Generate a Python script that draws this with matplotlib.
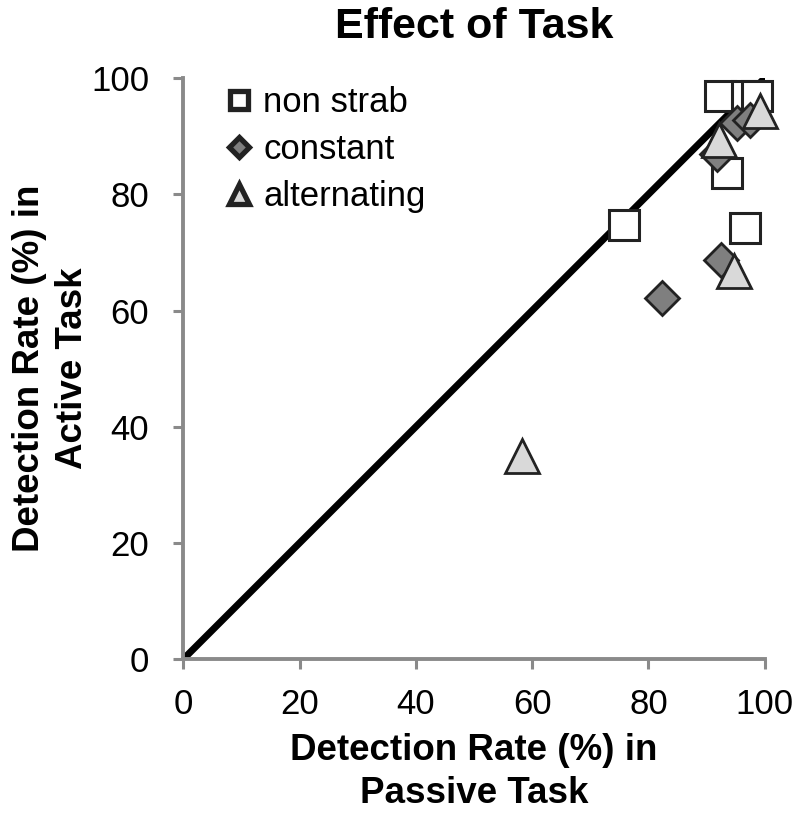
import matplotlib
matplotlib.use("Agg")
import matplotlib.pyplot as plt

plt.rcParams['font.family'] = ['Liberation Sans', 'DejaVu Sans']

nonstrab_x = [75.8, 92.3, 97.0, 98.6, 93.5, 96.6]
nonstrab_y = [74.7, 96.9, 96.9, 96.9, 83.6, 74.2]
constant_x = [82.3, 92.4, 91.8, 95.2, 97.4]
constant_y = [62.1, 68.7, 87.0, 92.3, 92.8]
alternating_x = [58.2, 94.7, 92.1, 99.1]
alternating_y = [35.0, 66.8, 89.3, 94.3]

fig = plt.figure(figsize=(8, 8.21), dpi=100)
ax = fig.add_axes([0.229, 0.197, 0.727, 0.708])

ax.plot([0, 100], [0, 100], color='black', lw=5, zorder=2, solid_capstyle='butt')
ax.plot(nonstrab_x, nonstrab_y, 's', ms=22, mfc='white', mec='#222222', mew=2.2,
        label='non strab', zorder=3, clip_on=False)
ax.plot(constant_x, constant_y, 'D', ms=17, mfc='#7f7f7f', mec='#222222', mew=2.0,
        label='constant', zorder=4, clip_on=False)
ax.plot(alternating_x, alternating_y, '^', ms=24, mfc='#d9d9d9', mec='#222222', mew=2.0,
        label='alternating', zorder=5, clip_on=False)

ax.set_xlim(0, 100)
ax.set_ylim(0, 100)
ax.set_xticks([0, 20, 40, 60, 80, 100])
ax.set_yticks([0, 20, 40, 60, 80, 100])
ax.tick_params(labelsize=25, direction='out', length=7.5, width=2.2, color='#8a8a8a')
ax.tick_params(axis='x', pad=13)
ax.tick_params(axis='y', pad=17)
for s in ['top', 'right']:
    ax.spines[s].set_visible(False)
for s in ['left', 'bottom']:
    ax.spines[s].set_color('#8a8a8a')
    ax.spines[s].set_linewidth(2.8)

ax.set_title('Effect of Task', fontsize=31, fontweight='bold', pad=29)
ax.set_xlabel('Detection Rate (%) in\nPassive Task', fontsize=26.5, fontweight='bold',
              linespacing=1.28)
ax.set_ylabel('Detection Rate (%) in\nActive Task', fontsize=26.5, fontweight='bold',
              linespacing=1.28)
ax.xaxis.set_label_coords(0.5, -0.127)
ax.yaxis.set_label_coords(-0.161, 0.5)

leg = ax.legend(loc='upper left', bbox_to_anchor=(0.018, 1.04), frameon=False, fontsize=25,
                markerscale=0.6, handlelength=0.8, handletextpad=0.3, labelspacing=0.4)
for h in leg.legend_handles:
    h.set_markeredgewidth(3.8)

fig.savefig('out.png', dpi=100)
